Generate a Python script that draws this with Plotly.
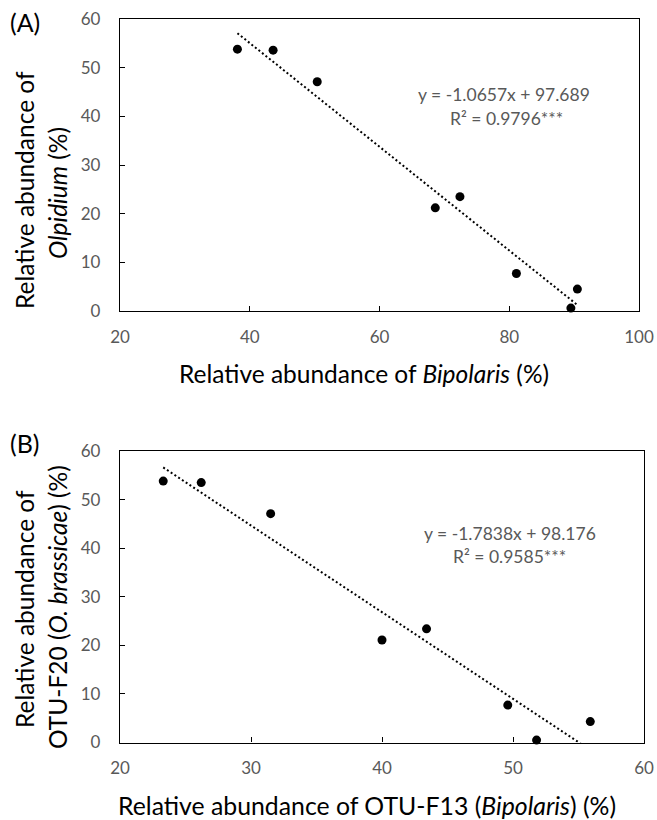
import plotly.graph_objects as go

# ---- data ----
bipolaris_pct = [38.1, 43.6, 50.4, 68.6, 72.4, 81.1, 90.5, 89.5]
olpidium_pct = [53.8, 53.6, 47.1, 21.2, 23.5, 7.7, 4.5, 0.6]
otu_f13_pct = [23.3, 26.2, 31.5, 40.0, 43.4, 49.6, 55.9, 51.8]
otu_f20_pct = [53.8, 53.5, 47.1, 21.1, 23.4, 7.7, 4.3, 0.5]

fit_a = (-1.0657, 97.689)
fit_b = (-1.7838, 98.176)
eq_a = ["y = -1.0657x + 97.689", "R² = 0.9796***"]
eq_b = ["y = -1.7838x + 98.176", "R² = 0.9585***"]

FONT = "Lato"
GRAY = "#595959"

fig = go.Figure()


def add_panel(xs, ys, fit, xaxis, yaxis):
    fig.add_trace(go.Scatter(
        x=xs, y=ys, mode="markers", xaxis=xaxis, yaxis=yaxis,
        marker=dict(color="black", size=9), cliponaxis=False, showlegend=False))
    lx = [min(xs), max(xs)]
    ly = [fit[0] * v + fit[1] for v in lx]
    fig.add_trace(go.Scatter(
        x=lx, y=ly, mode="lines", xaxis=xaxis, yaxis=yaxis,
        line=dict(color="black", width=2, dash="2px,2.5px"), showlegend=False))


add_panel(bipolaris_pct, olpidium_pct, fit_a, "x", "y")
add_panel(otu_f13_pct, otu_f20_pct, fit_b, "x2", "y2")

W, H = 657, 820


def px_x(p):
    return p / W


def px_y(p):
    return 1 - p / H


axis_common = dict(showline=True, linecolor="black", linewidth=1.3, mirror=True,
                   ticks="inside", ticklen=5, tickcolor="black", tickwidth=1,
                   showgrid=False, zeroline=False, automargin=False,
                   ticklabeloverflow="allow",
                   tickfont=dict(family=FONT, size=17, color=GRAY))
xcommon = dict(ticklabelstandoff=10, **axis_common)
ycommon = dict(ticklabelstandoff=15, **axis_common)

fig.update_layout(
    width=W, height=H, margin=dict(l=0, r=0, t=0, b=0, autoexpand=False),
    plot_bgcolor="white", paper_bgcolor="white",
    xaxis=dict(domain=[px_x(120), px_x(639)], range=[20, 100], dtick=20, anchor="y", **xcommon),
    yaxis=dict(domain=[px_y(311), px_y(19)], range=[0, 60], dtick=10, anchor="x", **ycommon),
    xaxis2=dict(domain=[px_x(120), px_x(644)], range=[20, 60], dtick=10, anchor="y2", **xcommon),
    yaxis2=dict(domain=[px_y(742.5), px_y(451)], range=[0, 60], dtick=10, anchor="x2", **ycommon),
)

ann = []


def paper_text(text, x, y, size, angle=0):
    ann.append(dict(text=text, x=px_x(x), y=px_y(y), xref="paper", yref="paper",
                    xanchor="center", yanchor="middle", textangle=angle,
                    showarrow=False, font=dict(family=FONT, size=size, color="black")))


# panel labels
paper_text("(A)", 25, 22, 25)
paper_text("(B)", 25, 443, 25)
# x titles
paper_text("Relative abundance of <i>Bipolaris</i> (%)", 364, 374, 24.5)
paper_text("Relative abundance of OTU-F13 (<i>Bipolaris</i>) (%)", 367, 805, 24.8)
# y titles
paper_text("Relative abundance of", 24, 190, 24.5, -90)
paper_text("<i>Olpidium</i> (%)", 57, 193, 24.5, -90)
paper_text("Relative abundance of", 24, 609, 24.5, -90)
paper_text("OTU-F20 (<i>O. brassicae</i>) (%)", 57, 607, 24.5, -90)

# equations
ef = dict(family=FONT, size=17.5, color=GRAY)
for t, x, y, xr, yr in [(eq_a[0], 79.2, 44.4, "x", "y"), (eq_a[1], 79.5, 39.6, "x", "y"),
                        (eq_b[0], 49.8, 43.0, "x2", "y2"), (eq_b[1], 49.7, 38.2, "x2", "y2")]:
    ann.append(dict(text=t, x=x, y=y, xref=xr, yref=yr, xanchor="center", yanchor="middle",
                    showarrow=False, font=ef))

fig.update_layout(annotations=ann)

fig.write_html(
    "out.html",
    config={"displayModeBar": False},
    post_script="document.body.style.margin='0';document.body.style.overflow='hidden';",
)
